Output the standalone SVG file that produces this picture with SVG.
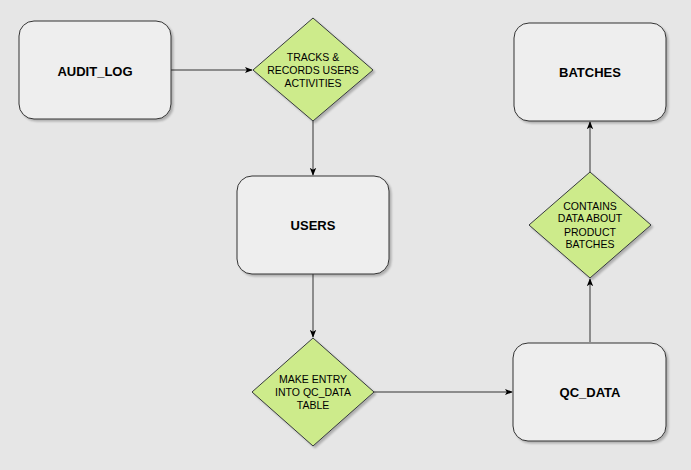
<svg xmlns="http://www.w3.org/2000/svg" width="691" height="470" viewBox="0 0 691 470">
<style>
.box{fill:#eeeeee;stroke:#333333;stroke-width:1;filter:url(#sh)}
.dia{fill:#cdeb8b;stroke:#36393d;stroke-width:1;filter:url(#sh)}
.bt{font-family:"Liberation Sans",Arial,sans-serif;font-size:13px;font-weight:bold;fill:#000;text-anchor:middle;dominant-baseline:central}
.dt{font-family:"Liberation Sans",Arial,sans-serif;font-size:10.5px;fill:#000;text-anchor:middle;dominant-baseline:central}
.ln{fill:none;stroke:#333333;stroke-width:1;marker-end:url(#ah)}
</style>
<defs>
<filter id="sh" x="-10%" y="-10%" width="130%" height="130%">
<feGaussianBlur in="SourceAlpha" stdDeviation="1.2"/>
<feOffset dx="2" dy="2" result="b"/>
<feComponentTransfer><feFuncA type="linear" slope="0.25"/></feComponentTransfer>
<feMerge><feMergeNode/><feMergeNode in="SourceGraphic"/></feMerge>
</filter>
<marker id="ah" viewBox="0 0 10 10" refX="9" refY="5" markerWidth="8" markerHeight="8" markerUnits="userSpaceOnUse" orient="auto">
<path d="M0,1 L10,5 L0,9 L2.5,5 Z" fill="#000"/>
</marker>
</defs>
<rect width="691" height="470" fill="#e6e6e6"/>
<g id="connectors">
<path class="ln" d="M171,70 H252"/>
<path class="ln" d="M313,121 V175"/>
<path class="ln" d="M313,274 V337"/>
<path class="ln" d="M374,392 H512"/>
<path class="ln" d="M590,342 V279"/>
<path class="ln" d="M590,172 V122"/>
</g>
<g id="audit_log">
<rect class="box" x="19" y="21" width="152" height="98" rx="15"/>
<text class="bt" x="95" y="71">AUDIT_LOG</text>
</g>
<g id="tracks">
<polygon class="dia" points="313,18 373,70 313,121 253,70"/>
<text class="dt" x="313" y="57">TRACKS &amp;</text>
<text class="dt" x="313" y="70">RECORDS USERS</text>
<text class="dt" x="313" y="83">ACTIVITIES</text>
</g>
<g id="users">
<rect class="box" x="237" y="176" width="152" height="98" rx="15"/>
<text class="bt" x="313" y="225">USERS</text>
</g>
<g id="make_entry">
<polygon class="dia" points="313,338 374,392 313,446 252,392"/>
<text class="dt" x="313" y="379">MAKE ENTRY</text>
<text class="dt" x="313" y="392">INTO QC_DATA</text>
<text class="dt" x="313" y="405">TABLE</text>
</g>
<g id="qc_data">
<rect class="box" x="513" y="343" width="153" height="98" rx="15"/>
<text class="bt" x="590" y="392">QC_DATA</text>
</g>
<g id="contains">
<polygon class="dia" points="590,172 651,225 590,278 529,225"/>
<text class="dt" x="590" y="206">CONTAINS</text>
<text class="dt" x="590" y="218">DATA ABOUT</text>
<text class="dt" x="590" y="232">PRODUCT</text>
<text class="dt" x="590" y="244">BATCHES</text>
</g>
<g id="batches">
<rect class="box" x="514" y="23" width="152" height="98" rx="15"/>
<text class="bt" x="590" y="72">BATCHES</text>
</g>
</svg>
